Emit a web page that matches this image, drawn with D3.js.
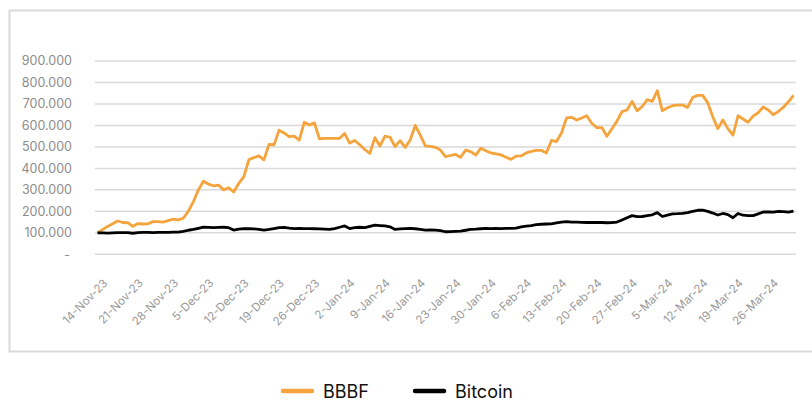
<!DOCTYPE html>
<html>
<head>
<meta charset="utf-8">
<script src="https://cdn.jsdelivr.net/npm/d3@7"></script>
<style>
  body { margin: 0; background: #fff; }
  svg { font-family: Inter, "Noto Sans", sans-serif; }
</style>
</head>
<body>
<svg id="chart" width="812" height="401"></svg>
<script>
// daily series, 14-Nov-23 .. 31-Mar-24 (index, 100.000 = start)
var startDate = new Date(2023, 10, 14);
var numDays = 139;

var bbbf = [
  100,115,130,142,155,148,147,130,143,141,142,152,152,150,157,164,160,168,200,245,
  300,340,327,319,322,300,310,290,330,360,440,450,458,440,512,510,578,565,548,550,
  532,615,602,612,538,540,540,540,540,562,518,530,510,488,470,543,504,550,545,501,
  529,498,532,600,555,505,502,498,485,455,460,465,452,485,478,462,494,482,472,468,
  463,452,442,457,458,472,479,484,484,472,530,525,565,635,638,625,635,645,610,590,
  590,550,585,620,664,672,712,668,688,720,712,762,668,682,692,695,695,684,730,740,
  740,705,640,585,625,585,555,645,630,615,643,659,686,672,650,665,685,710,740
];

var bitcoin = [
  100,100,99,100,101,101,101,98,101,102,102,101,102,102,102,103,103,107,112,116,
  121,126,125,124,125,126,124,113,117,120,119,118,116,113,116,120,124,125,122,120,
  121,120,120,119,118,117,116,120,126,132,120,124,126,124,130,136,134,132,128,116,
  118,120,121,119,116,113,114,113,110,105,106,107,108,112,116,117,119,121,120,121,
  120,121,121,122,128,131,134,138,140,141,142,146,150,152,150,150,149,148,148,148,
  148,147,148,150,160,170,180,175,176,180,184,194,176,182,188,189,191,194,200,205,
  206,200,192,183,190,185,170,190,182,180,180,188,197,198,196,200,199,196,201
];

var yTicks = [0, 100, 200, 300, 400, 500, 600, 700, 800, 900];
var tickDays = d3.range(0, 134, 7);
var seriesNames = ["BBBF", "Bitcoin"];
var seriesColors = ["#F5A33C", "#000000"];

var svg = d3.select("#chart");

// outer frame
svg.append("rect")
  .attr("x", 9.5).attr("y", 10.5)
  .attr("width", 830).attr("height", 341)
  .attr("fill", "none")
  .attr("stroke", "#d9d9d9")
  .attr("stroke-width", 2);

var x0 = 95, x1 = 796;
var x = d3.scaleLinear().domain([-0.5, numDays - 0.5]).range([x0, x1]);
var y = d3.scaleLinear().domain([0, 900]).range([254.3, 61]);

var fmt = function(v) {
  if (v == 0) return "-";
  return d3.format(",")(v * 1000).replace(/,/g, ".");
};

// gridlines
svg.append("g")
  .selectAll("line")
  .data(yTicks).enter()
  .append("line")
  .attr("x1", x0).attr("x2", x1)
  .attr("y1", function(d) { return y(d); })
  .attr("y2", function(d) { return y(d); })
  .attr("stroke", "#d9d9d9")
  .attr("stroke-width", 1.5);

// y labels
svg.append("g")
  .selectAll("text")
  .data(yTicks).enter()
  .append("text")
  .attr("x", function(d) { return d == 0 ? 70 : 72; })
  .attr("y", function(d) { return y(d); })
  .attr("dy", "0.35em")
  .attr("text-anchor", "end")
  .attr("font-size", 12.5)
  .attr("fill", "#8c8c8c")
  .text(fmt);

// x labels
var fmtDate = function(i) {
  var d = d3.timeDay.offset(startDate, i);
  return d3.timeFormat("%-d-%b-%y")(d);
};
svg.append("g")
  .selectAll("text")
  .data(tickDays).enter()
  .append("text")
  .attr("transform", function(d) { return "translate(" + (x(d) + 8) + ",281) rotate(-45)"; })
  .attr("dy", "0.35em")
  .attr("text-anchor", "end")
  .attr("font-size", 11.5)
  .attr("fill", "#999999")
  .text(fmtDate);

// lines
var line = d3.line()
  .x(function(d, i) { return x(i); })
  .y(function(d) { return y(d); });

[bbbf, bitcoin].forEach(function(s, k) {
  svg.append("path")
    .datum(s)
    .attr("d", line)
    .attr("fill", "none")
    .attr("stroke", seriesColors[k])
    .attr("stroke-width", 2.8)
    .attr("stroke-linejoin", "round");
});

// legend
var legendX = [283, 415];
var lg = svg.append("g")
  .selectAll("g")
  .data(seriesNames).enter()
  .append("g")
  .attr("transform", function(d, i) { return "translate(" + legendX[i] + ",391)"; });
lg.append("line")
  .attr("x1", 0).attr("x2", 29)
  .attr("stroke", function(d, i) { return seriesColors[i]; })
  .attr("stroke-width", 4.5)
  .attr("stroke-linecap", "round");
lg.append("text")
  .attr("x", 40)
  .attr("y", 6.5)
  .attr("font-size", 18)
  .attr("fill", "#111")
  .text(function(d) { return d; });
</script>
</body>
</html>
